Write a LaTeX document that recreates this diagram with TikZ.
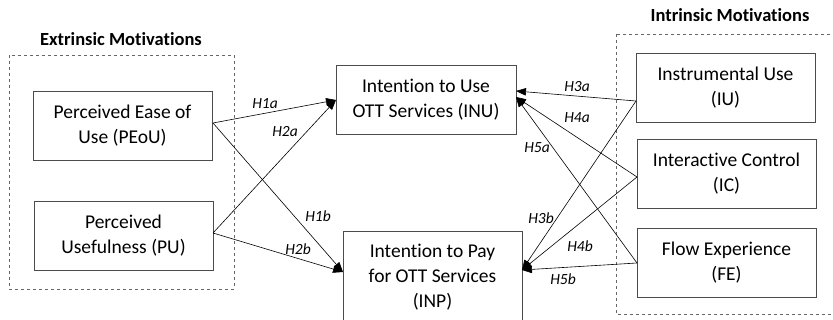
\documentclass[tikz,border=0pt]{standalone}
\usepackage{fontspec}
\setmainfont{Carlito}[Ligatures=NoCommon]
\usetikzlibrary{arrows.meta}
\begin{document}
\begin{tikzpicture}[x=1pt,y=-1pt,
  box/.style={draw=black!70,line width=0.9pt,align=center,inner sep=0pt,minimum width=179pt,minimum height=69pt,font=\fontsize{19.5}{25}\selectfont},
  grp/.style={draw=black!60,dashed,line width=0.8pt},
  title/.style={font=\bfseries\fontsize{18.5}{20}\selectfont},
  hyp/.style={font=\itshape\fontsize{15.5}{18}\selectfont},
  arr/.style={line width=0.6pt,-{Triangle[length=10pt,width=7.5pt]}}]
\useasboundingbox (0,0) rectangle (833,320);
\draw[grp] (9,55) rectangle (234,289);
\draw[grp] (616,34) rectangle (845,314);
\node[title] (ext) at (121,39) {Extrinsic Motivations};
\node[title] (int) at (730,15) {Intrinsic Motivations};
\node[box] (PEoU) at (122.5,125.5) {Perceived Ease of\\Use (PEoU)};
\node[box] (PU) at (123.5,236) {Perceived\\Usefulness (PU)};
\node[box,minimum width=180pt] (INU) at (426,99.5) {Intention to Use\\OTT Services (INU)};
\node[box,minimum height=92pt] (INP) at (432.5,277) {Intention to Pay\\for OTT Services\\(INP)};
\node[box] (IU) at (725.5,87.5) {Instrumental Use\\(IU)};
\node[box] (IC) at (726.5,173.5) {Interactive Control\\(IC)};
\node[box] (FE) at (726.5,262.5) {Flow Experience\\(FE)};
% connection points
\coordinate (peouO) at (213,123);
\coordinate (puO) at (213,233);
\coordinate (iuO) at (636,101);
\coordinate (icO) at (637,177);
\coordinate (feO) at (637,263);
\coordinate (inuL) at (336,100);
\coordinate (inuR1) at (516,91);
\coordinate (inuR2) at (516,97);
\coordinate (inpL) at (343,272);
\coordinate (inpR) at (522,270);
\draw[arr] (peouO) -- (inuL);
\draw[arr] (puO) -- (inuL);
\draw[arr] (peouO) -- (inpL);
\draw[arr] (puO) -- (inpL);
\draw[arr] (iuO) -- (inuR1);
\draw[arr] (icO) -- (inuR2);
\draw[arr] (feO) -- (inuR2);
\draw[arr] (iuO) -- (inpR);
\draw[arr] (icO) -- (inpR);
\draw[arr] (feO) -- (inpR);
\node[hyp] (h1a) at (265,104) {H1a};
\node[hyp] (h2a) at (285,132) {H2a};
\node[hyp] (h1b) at (318,216) {H1b};
\node[hyp] (h2b) at (298,249) {H2b};
\node[hyp] (h3a) at (577,87) {H3a};
\node[hyp] (h4a) at (577,118) {H4a};
\node[hyp] (h5a) at (537,148) {H5a};
\node[hyp] (h3b) at (541,218) {H3b};
\node[hyp] (h4b) at (580,246) {H4b};
\node[hyp] (h5b) at (563,279) {H5b};
\end{tikzpicture}
\end{document}
